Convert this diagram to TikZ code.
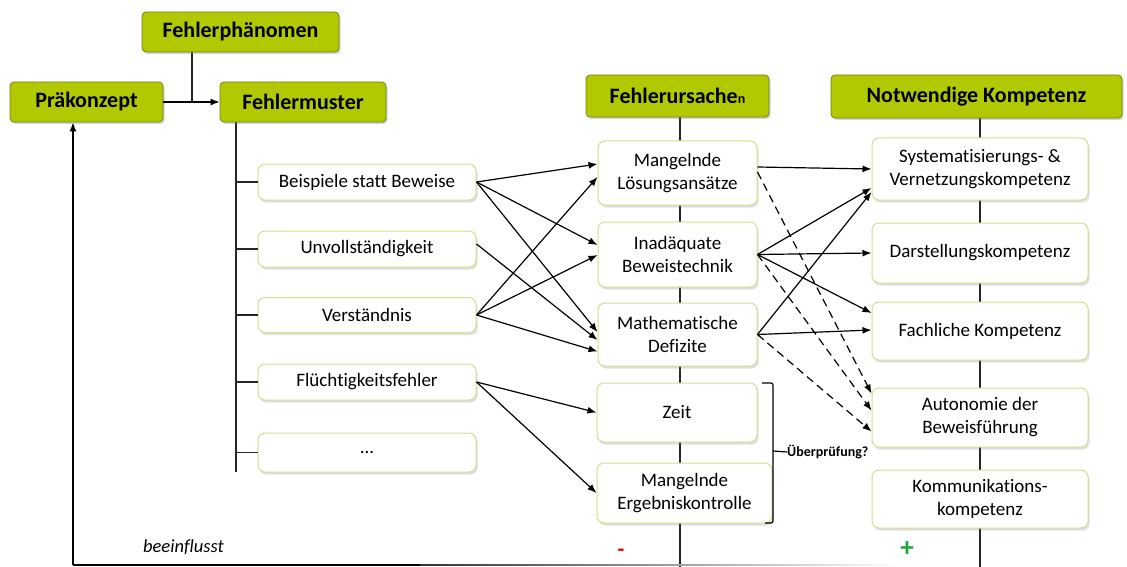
\documentclass[tikz,border=0pt]{standalone}
\usepackage{fontspec}
\setmainfont[Ligatures=NoCommon]{Carlito}
\usetikzlibrary{shadows,arrows.meta}
\definecolor{hgreen}{RGB}{178,200,0}
\definecolor{hborder}{RGB}{112,134,20}
\definecolor{bborder}{RGB}{212,222,140}
\definecolor{pminus}{RGB}{228,0,0}
\definecolor{pplus}{RGB}{30,165,60}
\pgfdeclarelayer{background}
\pgfsetlayers{background,main}
\tikzset{
  hdr/.style={draw=hborder, line width=0.8pt, fill=hgreen, rounded corners=4pt,
    inner sep=0pt, font=\bfseries\fontsize{22}{24}\selectfont,
    drop shadow={opacity=0.35, shadow xshift=1.5pt, shadow yshift=-2pt}},
  bx/.style={draw=bborder, line width=1pt, fill=white, rounded corners=7pt,
    inner sep=0pt, align=center, font=\fontsize{19}{23}\selectfont,
    drop shadow={opacity=0.25, shadow xshift=1.5pt, shadow yshift=-2.5pt}},
  ln/.style={line width=1.2pt, draw=black!85},
  arr/.style={line width=1.2pt, -{Latex[length=9pt,width=7pt]}},
  darr/.style={arr, dash pattern=on 8pt off 5pt},
}
\begin{document}
\begin{tikzpicture}[x=1pt,y=-1pt]
\useasboundingbox (0,0) rectangle (1127,567);

% headers
\node[hdr, minimum width=197pt, minimum height=40pt] (fp) at (240.5,32) {Fehlerphänomen};
\node[hdr, minimum width=153pt, minimum height=40pt] (pk) at (86.5,102) {Präkonzept};
\node[hdr, minimum width=166pt, minimum height=40pt] (fm) at (303,102) {Fehlermuster};
\node[hdr, minimum width=183pt, minimum height=42pt] (fu) at (677.5,96) {Fehlerursache{\fontsize{14}{16}\selectfont n}};
\node[hdr, minimum width=291pt, minimum height=43pt] (nk) at (976.5,96.5) {Notwendige Kompetenz};

% left column
\node[bx, minimum width=218pt, minimum height=36pt] (b1) at (367,182) {Beispiele statt Beweise};
\node[bx, minimum width=218pt, minimum height=36pt] (b2) at (367,249) {Unvollständigkeit};
\node[bx, minimum width=218pt, minimum height=35pt] (b3) at (367,315) {Verständnis};
\node[bx, minimum width=218pt, minimum height=36pt] (b4) at (367,382) {Flüchtigkeitsfehler};
\node[bx, minimum width=218pt, minimum height=39pt] (b5) at (367,452.5) {...};

% middle column
\node[bx, minimum width=159pt, minimum height=64pt] (m1) at (677.5,173) {Mangelnde\\Lösungsansätze};
\node[bx, minimum width=159pt, minimum height=65pt] (m2) at (677.5,254.5) {Inadäquate\\Beweistechnik};
\node[bx, minimum width=159pt, minimum height=63pt] (m3) at (677.5,334.5) {Mathematische\\Defizite};
\node[bx, minimum width=160pt, minimum height=59pt] (z) at (677,412.5) {Zeit};
\node[bx, minimum width=175pt, minimum height=60pt] (e) at (684.5,493) {Mangelnde\\Ergebniskontrolle};

% right column
\node[bx, minimum width=216pt, minimum height=62pt] (s) at (980,169) {Systematisierungs- \&\\Vernetzungskompetenz};
\node[bx, minimum width=216pt, minimum height=60pt] (d) at (980,253) {Darstellungskompetenz};
\node[bx, minimum width=216pt, minimum height=58pt] (f) at (980,331) {Fachliche Kompetenz};
\node[bx, minimum width=216pt, minimum height=59pt] (a) at (980,417.5) {Autonomie der\\Beweisführung};
\node[bx, minimum width=216pt, minimum height=58pt] (k) at (980,499) {Kommunikations-\\kompetenz};

% free-end coordinates
\coordinate (j) at (192,102);
\coordinate (lv) at (236,472);
\coordinate (mv) at (680,567);
\coordinate (rv) at (980,567);
\coordinate (fbc) at (73,565);
\coordinate (fbe) at (420,565);
\coordinate (bt) at (762,383);
\coordinate (btr) at (773,383);
\coordinate (bbr) at (773,523);
\coordinate (bb) at (765,523);
\coordinate (bm) at (773,451);

\begin{pgfonlayer}{background}
\draw[ln] (fp.south -| j) -- (j);
\draw[ln] (fm.south -| lv) -- (lv);
\draw[ln] (fu.south -| mv) -- (mv);
\draw[ln] (nk.south -| rv) -- (rv);
\end{pgfonlayer}

% top arrow
\draw[arr] (pk.east) -- (fm.west);

% ticks
\foreach \n in {b1,b2,b3,b4,b5} \draw[ln] (\n.west -| lv) -- (\n.west);

% left -> middle
\draw[arr] (b1.east) -- ([yshift=9pt]m1.west);
\draw[arr] (b1.east) -- ([yshift=9.5pt]m2.west);
\draw[arr] (b1.east) -- ([yshift=2.5pt]m3.west);
\draw[arr] ([yshift=5pt]b2.east) -- ([yshift=-5.5pt]m3.west);
\draw[arr] (b3.east) -- ([yshift=-4pt]m1.west);
\draw[arr] (b3.east) -- ([yshift=-0.5pt]m2.west);
\draw[arr] (b3.east) -- ([yshift=-17pt]m3.west);
\draw[arr] (b4.east) -- (z.west);
\draw[arr] (b4.east) -- (e.west);

% middle -> right
\draw[arr] ([yshift=6pt]m1.east) -- (s.west);
\draw[darr] ([yshift=1pt]m1.east) -- ([yshift=24pt]a.west);
\draw[arr] (m2.east) -- ([yshift=-19pt]s.west);
\draw[arr] (m2.east) -- (d.west);
\draw[arr] (m2.east) -- ([yshift=18pt]f.west);
\draw[darr] (m2.east) -- ([yshift=7pt]a.west);
\draw[arr] (m3.east) -- ([yshift=-23pt]s.west);
\draw[arr] (m3.east) -- ([yshift=1pt]f.west);
\draw[darr] (m3.east) -- ([yshift=-14pt]a.west);

% bracket
\node[anchor=west, inner sep=0pt, font=\bfseries\fontsize{14}{16}\selectfont] (ue) at (787,452) {Überprüfung?};
\draw[line width=1.2pt, rounded corners=2pt] (bt) -- (btr) -- (bbr) -- (bb);
\draw[line width=1.2pt] (bm) -- (ue.west);

% feedback
\draw[line width=1.4pt] (fbe) -- (fbc);
\draw[line width=1.4pt, -{Latex[length=9pt,width=7pt]}] (fbc) -- ([xshift=-13.5pt]pk.south);
\shade[left color=black!80, right color=white] (420,564.3) rectangle (900,565.7);
\node[font=\itshape\fontsize{18.5}{20}\selectfont, inner sep=0pt] (bf) at (183.5,547) {beeinflusst};

% signs
\node[font=\bfseries\fontsize{22}{24}\selectfont, text=pminus, inner sep=0pt] (minus) at (621,553) {-};
\node[font=\bfseries\fontsize{27}{28}\selectfont, text=pplus, inner sep=0pt] (plus) at (907,549) {+};
\end{tikzpicture}
\end{document}
